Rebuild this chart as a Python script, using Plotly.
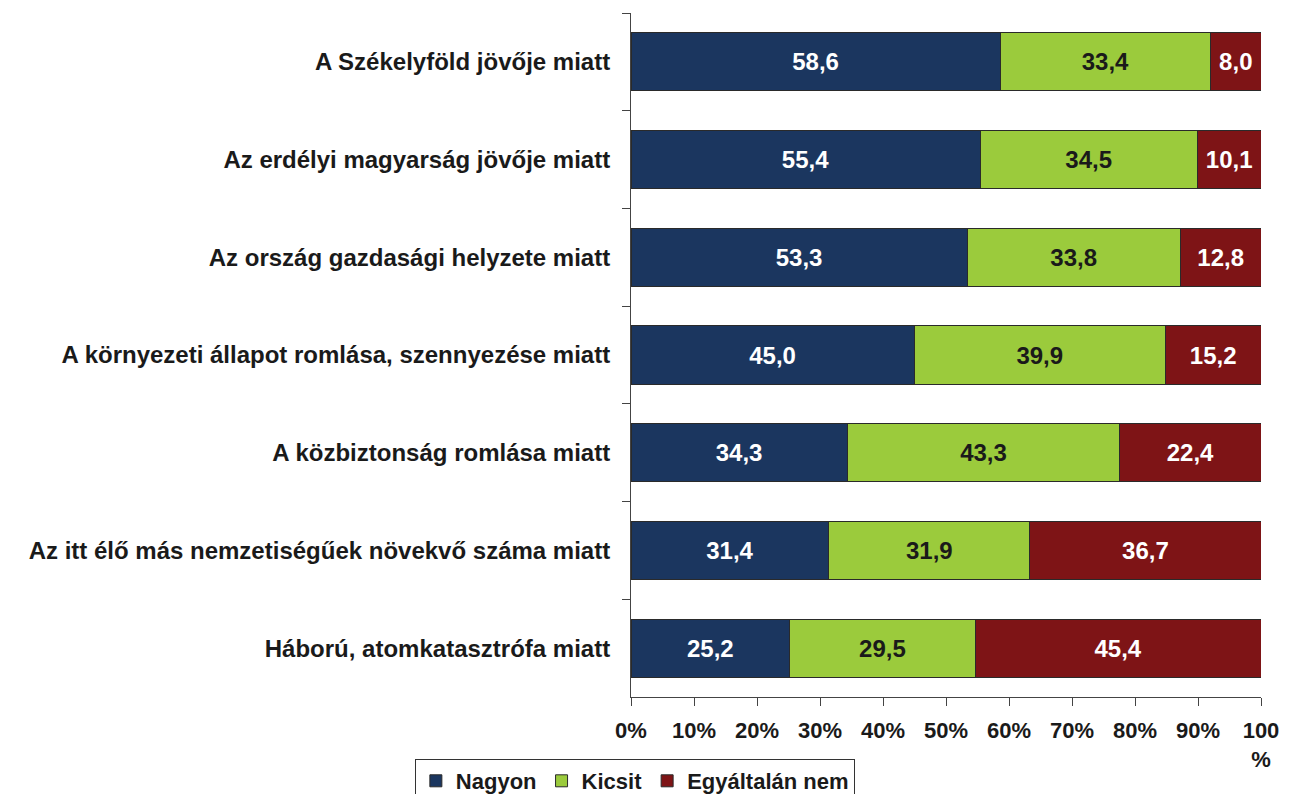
import plotly.graph_objects as go

categories = [
    "A Székelyföld jövője miatt",
    "Az erdélyi magyarság jövője miatt",
    "Az ország gazdasági helyzete miatt",
    "A környezeti állapot romlása, szennyezése miatt",
    "A közbiztonság romlása miatt",
    "Az itt élő más nemzetiségűek növekvő száma miatt",
    "Háború, atomkatasztrófa miatt",
]
nagyon = [58.6, 55.4, 53.3, 45.0, 34.3, 31.4, 25.2]
kicsit = [33.4, 34.5, 33.8, 39.9, 43.3, 31.9, 29.5]
egyaltalan = [8.0, 10.1, 12.8, 15.2, 22.4, 36.7, 45.4]
series_names = ["Nagyon", "Kicsit", "Egyáltalán nem"]
colors = ["#1B365F", "#9BCB3C", "#7E1416"]
text_colors = ["white", "#1a1a1a", "white"]
tick_vals = [0, 10, 20, 30, 40, 50, 60, 70, 80, 90, 100]
tick_text = ["0%", "10%", "20%", "30%", "40%", "50%", "60%", "70%", "80%", "90%", "100<br>%"]

FONT = "Liberation Sans"

fig = go.Figure()
for name, vals, col, tcol in zip(series_names, [nagyon, kicsit, egyaltalan], colors, text_colors):
    fig.add_trace(go.Bar(
        y=categories, x=vals, name=name, orientation="h",
        marker=dict(color=col, line=dict(color="#2a2a2a", width=1)),
        text=[f"{v:.1f}".replace(".", ",") for v in vals],
        textposition="inside", insidetextanchor="middle",
        textfont=dict(family=FONT, size=24, color=tcol, weight="bold"),
        constraintext="none",
    ))

fig.update_layout(
    barmode="stack", barnorm="percent", bargap=0.405,
    width=1293, height=794,
    margin=dict(l=631, r=32, t=13, b=97, autoexpand=False),
    plot_bgcolor="white", paper_bgcolor="white",
    font=dict(family=FONT, size=22, color="#1a1a1a", weight="bold"),
    showlegend=True,
    legend=dict(
        orientation="h", xref="container", yref="container",
        x=0.491, xanchor="center", y=1 - 759 / 794, yanchor="top",
        bordercolor="#333", borderwidth=1, bgcolor="white",
        font=dict(family=FONT, size=22, color="#1a1a1a", weight="bold"),
        traceorder="normal", itemwidth=30, tracegroupgap=0,
    ),
    uniformtext=dict(mode=False),
)
fig.update_yaxes(
    categoryorder="array", categoryarray=categories, autorange="reversed",
    showline=True, linecolor="#444", linewidth=1,
    ticks="outside", tickson="boundaries", ticklen=8, tickcolor="#444",
    ticklabelstandoff=15, showgrid=False, automargin=False,
    tickfont=dict(family=FONT, size=24, color="#1a1a1a", weight="bold"),
)
fig.update_xaxes(
    range=[0, 100], tickvals=tick_vals, ticktext=tick_text,
    showline=True, linecolor="#444", linewidth=1,
    ticks="outside", ticklen=8, tickcolor="#444", showgrid=False, zeroline=False,
    ticklabelstandoff=6, automargin=False,
    tickfont=dict(family=FONT, size=22, color="#1a1a1a", weight="bold"),
)

fig.write_html(
    "out.html",
    config={"displayModeBar": False},
    post_script="document.body.style.margin='0';document.body.style.overflow='hidden';",
)
